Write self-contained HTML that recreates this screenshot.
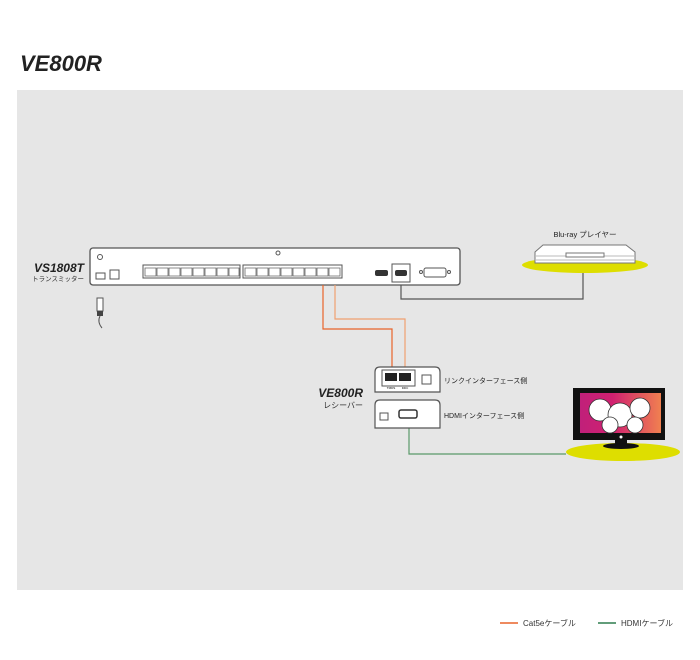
<!DOCTYPE html>
<html><head><meta charset="utf-8"><style>
body{margin:0;background:#fff;width:700px;height:660px;overflow:hidden}
svg{display:block}
text{font-family:"Liberation Sans","Noto Sans CJK JP",sans-serif}
</style></head><body>
<svg width="700" height="660" viewBox="0 0 700 660">
<text x="20" y="71" font-size="22" font-weight="bold" font-style="italic" fill="#222">VE800R</text>
<rect x="17" y="90" width="666" height="500" fill="#e6e6e6"/>
<!-- transmitter -->
<text x="84" y="272" font-size="12" font-weight="bold" font-style="italic" text-anchor="end" fill="#222">VS1808T</text>
<text x="84" y="281" font-size="6.5" text-anchor="end" fill="#333">トランスミッター</text>
<rect x="90" y="248" width="370" height="37" rx="3" fill="#fff" stroke="#555" stroke-width="1.3"/>
<circle cx="100" cy="257" r="2.5" fill="none" stroke="#555"/>
<circle cx="278" cy="253" r="2" fill="none" stroke="#555"/>
<rect x="96" y="273" width="9" height="6" fill="#fff" stroke="#555"/>
<rect x="110" y="270" width="9" height="9" fill="#fff" stroke="#555"/>
<rect x="143" y="265" width="97" height="13" fill="#fff" stroke="#555"/>
<rect x="243" y="265" width="99" height="13" fill="#fff" stroke="#555"/>
<g fill="none" stroke="#666" stroke-width="0.8">
<path d="M145 268h11v8h-11z M157 268h11v8h-11z M169 268h11v8h-11z M181 268h11v8h-11z M193 268h11v8h-11z M205 268h11v8h-11z M217 268h11v8h-11z M229 268h10v8h-10z"/>
<path d="M245 268h11v8h-11z M257 268h11v8h-11z M269 268h11v8h-11z M281 268h11v8h-11z M293 268h11v8h-11z M305 268h11v8h-11z M317 268h11v8h-11z M329 268h11v8h-11z"/>
</g>
<rect x="375" y="270" width="13" height="6" rx="2" fill="#333"/>
<rect x="392" y="264" width="18" height="18" fill="#fff" stroke="#555"/>
<rect x="395" y="270" width="12" height="6" rx="2" fill="#333"/>
<rect x="424" y="268" width="22" height="9" rx="2" fill="#fff" stroke="#555"/>
<circle cx="421" cy="272" r="1.5" fill="none" stroke="#555"/><circle cx="449" cy="272" r="1.5" fill="none" stroke="#555"/>
<!-- power plug -->
<rect x="97" y="298" width="6" height="13" fill="#fff" stroke="#555"/>
<rect x="97" y="311" width="6" height="5" fill="#444"/>
<path d="M100 316 q-3 6 2 12" fill="none" stroke="#555"/>
<!-- cables -->
<path d="M323 285V329H392V372" fill="none" stroke="#e8632a" stroke-width="1.2"/>
<path d="M335 285V319H405V372" fill="none" stroke="#f0a070" stroke-width="1.2"/>
<path d="M401 285V299H583V272" fill="none" stroke="#555" stroke-width="1.2"/>
<path d="M409 420V454H566" fill="none" stroke="#5a9a6a" stroke-width="1.2"/>
<!-- receiver -->
<text x="363" y="397" font-size="12" font-weight="bold" font-style="italic" text-anchor="end" fill="#222">VE800R</text>
<text x="363" y="408" font-size="8" text-anchor="end" fill="#333">レシーバー</text>
<path d="M375 392V372q0-5 5-5h55q5 0 5 5v20z" fill="#fff" stroke="#555" stroke-width="1.2"/>
<rect x="382" y="370" width="33" height="16" fill="#fff" stroke="#555"/>
<rect x="385" y="373" width="12" height="8" fill="#222"/><rect x="399" y="373" width="12" height="8" fill="#222"/>
<text x="391" y="389" font-size="3" text-anchor="middle">TMDS</text><text x="405" y="389" font-size="3" text-anchor="middle">DDC</text>
<rect x="422" y="375" width="9" height="9" fill="#fff" stroke="#555"/>
<path d="M375 428V405q0-5 5-5h55q5 0 5 5v23z" fill="#fff" stroke="#555" stroke-width="1.2"/>
<rect x="380" y="413" width="8" height="7" fill="#fff" stroke="#555"/>
<rect x="399" y="410" width="18" height="8" rx="2" fill="#fff" stroke="#333" stroke-width="1.5"/>
<text x="444" y="383" font-size="7" fill="#222">リンクインターフェース側</text>
<text x="444" y="418" font-size="7" fill="#222">HDMIインターフェース側</text>
<!-- blu-ray -->
<text x="585" y="237" font-size="7.5" text-anchor="middle" fill="#222">Blu-ray プレイヤー</text>
<ellipse cx="585" cy="265" rx="63" ry="8" fill="#dede00"/>
<path d="M535 252l8-7h83l9 7v11h-100z" fill="#fff" stroke="#777"/>
<path d="M536 256h98M536 260h98" stroke="#bbb"/>
<rect x="566" y="253" width="38" height="4" fill="#fff" stroke="#777"/>
<!-- TV -->
<ellipse cx="623" cy="452" rx="57" ry="9" fill="#dede00"/>
<rect x="573" y="388" width="92" height="52" fill="#111"/>
<defs><linearGradient id="g" x1="0" x2="1"><stop offset="0" stop-color="#c0207a"/><stop offset="0.4" stop-color="#d02070"/><stop offset="1" stop-color="#f08050"/></linearGradient></defs>
<rect x="580" y="393" width="81" height="40" fill="url(#g)"/>
<g fill="#fff" stroke="#333" stroke-width="0.8">
<circle cx="600" cy="410" r="11"/><circle cx="620" cy="415" r="12"/><circle cx="640" cy="408" r="10"/><circle cx="610" cy="425" r="8"/><circle cx="635" cy="425" r="8"/>
</g>
<circle cx="621" cy="437" r="1.5" fill="#fff"/>
<path d="M615 440h12v4h-12z" fill="#111"/><ellipse cx="621" cy="446" rx="18" ry="3" fill="#111"/>
<!-- legend -->
<line x1="500" y1="623" x2="518" y2="623" stroke="#e8632a" stroke-width="1.5"/>
<text x="523" y="626" font-size="8" fill="#333">Cat5eケーブル</text>
<line x1="598" y1="623" x2="616" y2="623" stroke="#2e7d4f" stroke-width="1.5"/>
<text x="621" y="626" font-size="8" fill="#333">HDMIケーブル</text>
</svg>
</body></html>
